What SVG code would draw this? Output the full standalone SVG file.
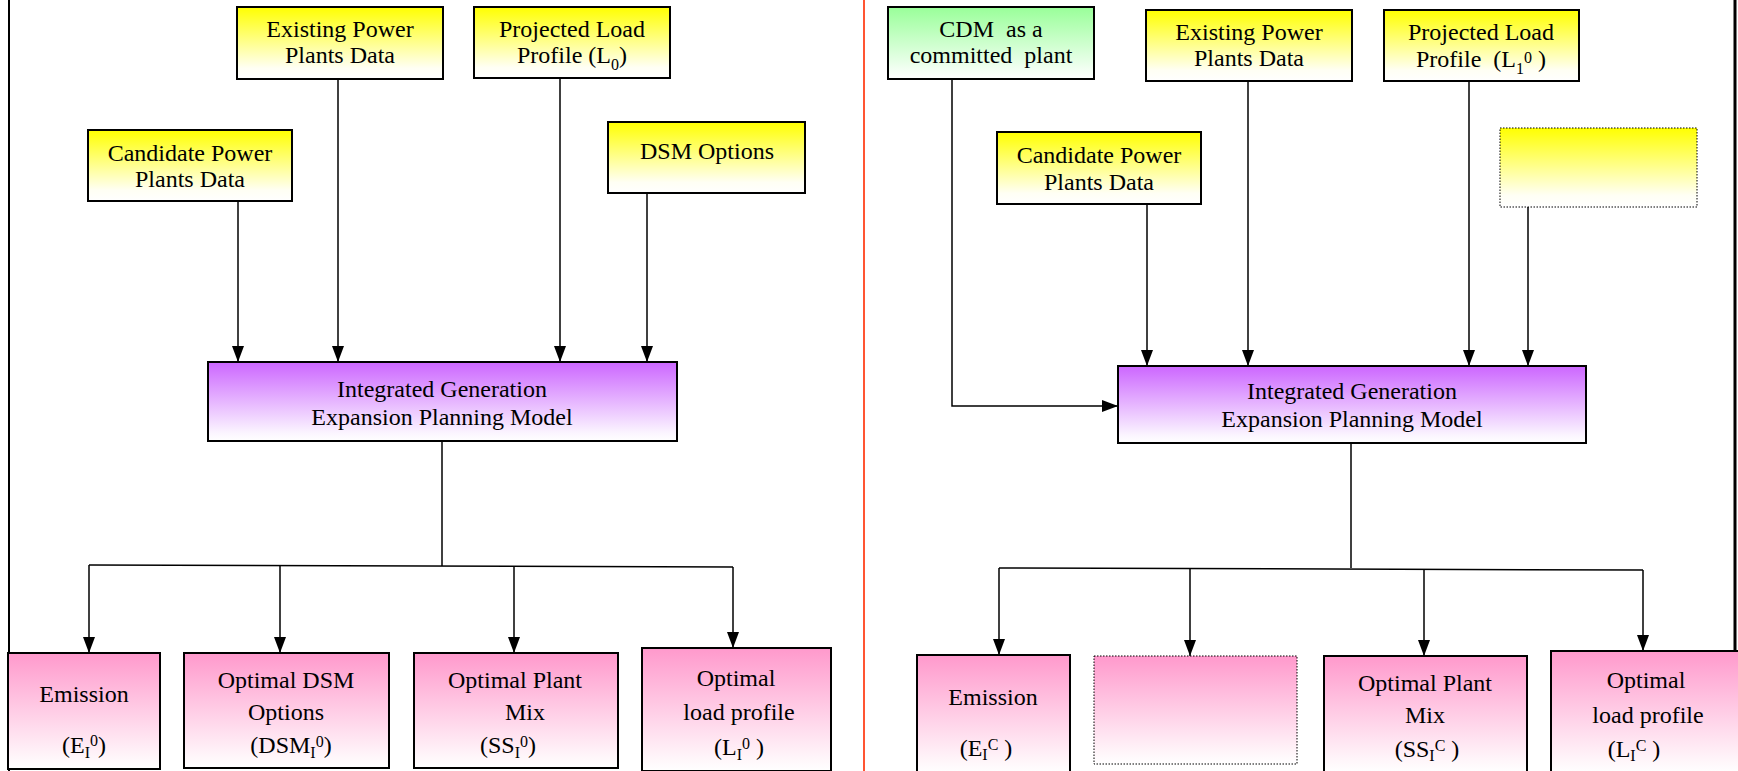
<svg xmlns="http://www.w3.org/2000/svg" width="1738" height="771" viewBox="0 0 1738 771">
<defs>
<linearGradient id="gY" x1="0" y1="0" x2="0" y2="1"><stop offset="0" stop-color="#FFFF00"/><stop offset="0.85" stop-color="#FFFFF4"/><stop offset="1" stop-color="#FFFFFF"/></linearGradient>
<linearGradient id="gP" x1="0" y1="0" x2="0" y2="1"><stop offset="0" stop-color="#CC66FF"/><stop offset="0.9" stop-color="#FBF5FF"/><stop offset="1" stop-color="#FFFFFF"/></linearGradient>
<linearGradient id="gK" x1="0" y1="0" x2="0" y2="1"><stop offset="0" stop-color="#FF99CC"/><stop offset="0.9" stop-color="#FFF6FA"/><stop offset="1" stop-color="#FFFFFF"/></linearGradient>
<linearGradient id="gG" x1="0" y1="0" x2="0" y2="1"><stop offset="0" stop-color="#99FF99"/><stop offset="0.9" stop-color="#F6FFF6"/><stop offset="1" stop-color="#FFFFFF"/></linearGradient>
<marker id="arr" viewBox="0 0 16 12" refX="16" refY="6" markerWidth="16" markerHeight="12" orient="auto" markerUnits="userSpaceOnUse"><path d="M0,0 L16,6 L0,12 Z" fill="#000"/></marker>
</defs>
<style>
.t { font-family: "Liberation Serif", "Times New Roman", serif; font-size: 24px; fill: #000; text-anchor: middle; }
.s { font-size: 16px; }
.box { stroke: #000; stroke-width: 2; }
.dot { stroke: #000; stroke-width: 1; stroke-dasharray: 1.5 1.5; }
.c { stroke: #000; stroke-width: 1.5; fill: none; }
.ca { stroke: #000; stroke-width: 1.5; fill: none; marker-end: url(#arr); }
</style>
<rect x="0" y="0" width="1738" height="771" fill="#FFFFFF"/>
<g id="frame">
<line x1="9" y1="0" x2="9" y2="771" stroke="#000" stroke-width="2"/>
<line x1="864" y1="0" x2="864" y2="771" stroke="#FF5533" stroke-width="2"/>
<line x1="1735" y1="0" x2="1735" y2="771" stroke="#000" stroke-width="3"/>
</g>
<g id="connectors">
<path class="ca" d="M238,201 V362"/>
<path class="ca" d="M338,79 V362"/>
<path class="ca" d="M560,78 V362"/>
<path class="ca" d="M647,193 V362"/>
<path class="c" d="M442,441 V566"/>
<path class="c" d="M89,565 L733,567"/>
<path class="ca" d="M89,565 V653"/>
<path class="ca" d="M280,565.6 V653"/>
<path class="ca" d="M514,566.3 V653"/>
<path class="ca" d="M733,567 V648"/>
<path class="ca" d="M952,79 V406 H1118"/>
<path class="ca" d="M1147,204 V366"/>
<path class="ca" d="M1248,81 V366"/>
<path class="ca" d="M1469,81 V366"/>
<path class="ca" d="M1528,207 V366"/>
<path class="c" d="M1351,443 V568"/>
<path class="c" d="M999,568 L1643,570"/>
<path class="ca" d="M999,568 V655"/>
<path class="ca" d="M1190,568.6 V656"/>
<path class="ca" d="M1424,569.3 V656"/>
<path class="ca" d="M1643,570 V651"/>
</g>
<g id="L_existing">
<rect class="box" x="237" y="7" width="206" height="72" fill="url(#gY)"/>
<text class="t" x="340" y="37">Existing Power</text>
<text class="t" x="340" y="63">Plants Data</text>
</g>
<g id="L_projected">
<rect class="box" x="474" y="7" width="196" height="71" fill="url(#gY)"/>
<text class="t" x="572" y="37">Projected Load</text>
<text class="t" x="572" y="63">Profile (L<tspan class="s" dy="7">0</tspan><tspan dy="-7">)</tspan></text>
</g>
<g id="L_candidate">
<rect class="box" x="88" y="130" width="204" height="71" fill="url(#gY)"/>
<text class="t" x="190" y="161">Candidate Power</text>
<text class="t" x="190" y="187">Plants Data</text>
</g>
<g id="L_dsm">
<rect class="box" x="608" y="122" width="197" height="71" fill="url(#gY)"/>
<text class="t" x="707" y="159">DSM Options</text>
</g>
<g id="L_model">
<rect class="box" x="208" y="362" width="469" height="79" fill="url(#gP)"/>
<text class="t" x="442" y="397">Integrated Generation</text>
<text class="t" x="442" y="425">Expansion Planning Model</text>
</g>
<g id="L_emission">
<rect class="box" x="8" y="653" width="152" height="116" fill="url(#gK)"/>
<text class="t" x="84" y="702">Emission</text>
<text class="t" x="84" y="753">(E<tspan class="s" dy="5">I</tspan><tspan class="s" dy="-12">0</tspan><tspan dy="7">)</tspan></text>
</g>
<g id="L_optdsm">
<rect class="box" x="184" y="653" width="205" height="115" fill="url(#gK)"/>
<text class="t" x="286" y="688">Optimal DSM</text>
<text class="t" x="286" y="720">Options</text>
<text class="t" x="291" y="753">(DSM<tspan class="s" dy="5">I</tspan><tspan class="s" dy="-11">0</tspan><tspan dy="6">)</tspan></text>
</g>
<g id="L_plantmix">
<rect class="box" x="414" y="653" width="204" height="115" fill="url(#gK)"/>
<text class="t" x="515" y="688">Optimal Plant</text>
<text class="t" x="525" y="720">Mix</text>
<text class="t" x="508" y="753">(SS<tspan class="s" dy="5">I</tspan><tspan class="s" dy="-11">0</tspan><tspan dy="6">)</tspan></text>
</g>
<g id="L_loadprofile">
<rect class="box" x="642" y="648" width="189" height="123" fill="url(#gK)"/>
<text class="t" x="736" y="686">Optimal</text>
<text class="t" x="739" y="720">load profile</text>
<text class="t" x="739" y="755" xml:space="preserve">(L<tspan class="s" dy="5">I</tspan><tspan class="s" dy="-11">0</tspan><tspan dy="6"> )</tspan></text>
</g>
<g id="R_cdm">
<rect class="box" x="888" y="7" width="206" height="72" fill="url(#gG)"/>
<text class="t" x="991" y="37" xml:space="preserve">CDM  as a</text>
<text class="t" x="991" y="63" xml:space="preserve">committed  plant</text>
</g>
<g id="R_existing">
<rect class="box" x="1146" y="10" width="206" height="71" fill="url(#gY)"/>
<text class="t" x="1249" y="40">Existing Power</text>
<text class="t" x="1249" y="66">Plants Data</text>
</g>
<g id="R_projected">
<rect class="box" x="1384" y="10" width="195" height="71" fill="url(#gY)"/>
<text class="t" x="1481" y="40">Projected Load</text>
<text class="t" x="1481" y="67" xml:space="preserve">Profile  (L<tspan class="s" dy="7">1</tspan><tspan class="s" dy="-11">0</tspan><tspan dy="4"> )</tspan></text>
</g>
<g id="R_candidate">
<rect class="box" x="997" y="132" width="204" height="72" fill="url(#gY)"/>
<text class="t" x="1099" y="163">Candidate Power</text>
<text class="t" x="1099" y="190">Plants Data</text>
</g>
<g id="R_blank_input">
<rect class="dot" x="1500" y="128" width="197" height="79" fill="url(#gY)"/>
</g>
<g id="R_model">
<rect class="box" x="1118" y="366" width="468" height="77" fill="url(#gP)"/>
<text class="t" x="1352" y="399">Integrated Generation</text>
<text class="t" x="1352" y="427">Expansion Planning Model</text>
</g>
<g id="R_emission">
<rect class="box" x="917" y="655" width="153" height="118" fill="url(#gK)"/>
<text class="t" x="993" y="705">Emission</text>
<text class="t" x="986" y="756" xml:space="preserve">(E<tspan class="s" dy="4">I</tspan><tspan class="s" dy="-10">C</tspan><tspan dy="6"> )</tspan></text>
</g>
<g id="R_blank_output">
<rect class="dot" x="1094" y="656" width="203" height="108" fill="url(#gK)"/>
</g>
<g id="R_plantmix">
<rect class="box" x="1324" y="656" width="203" height="116" fill="url(#gK)"/>
<text class="t" x="1425" y="691">Optimal Plant</text>
<text class="t" x="1425" y="723">Mix</text>
<text class="t" x="1427" y="757" xml:space="preserve">(SS<tspan class="s" dy="4">I</tspan><tspan class="s" dy="-10">C</tspan><tspan dy="6"> )</tspan></text>
</g>
<g id="R_loadprofile">
<rect class="box" x="1551" y="651" width="191" height="122" fill="url(#gK)"/>
<text class="t" x="1646" y="688">Optimal</text>
<text class="t" x="1648" y="723">load profile</text>
<text class="t" x="1634" y="757" xml:space="preserve">(L<tspan class="s" dy="4">I</tspan><tspan class="s" dy="-10">C</tspan><tspan dy="6"> )</tspan></text>
</g>
</svg>
